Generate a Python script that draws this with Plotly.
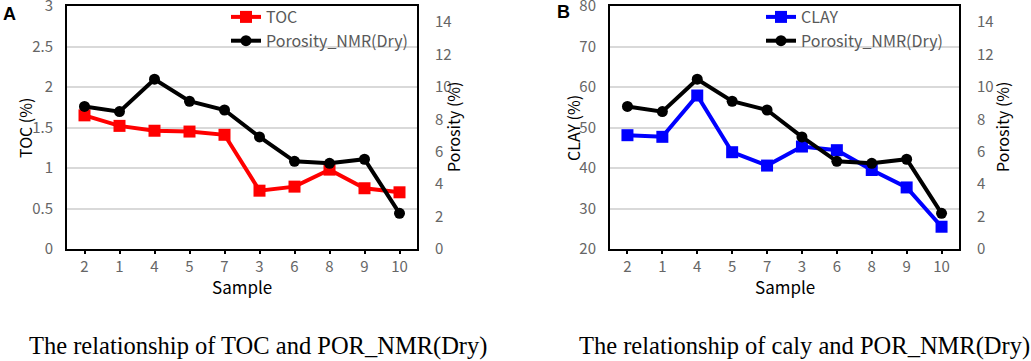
import plotly.graph_objects as go
from plotly.subplots import make_subplots

samples = ["2", "1", "4", "5", "7", "3", "6", "8", "9", "10"]
toc = [1.65, 1.52, 1.46, 1.45, 1.41, 0.72, 0.77, 0.98, 0.75, 0.70]
clay = [48.1, 47.7, 57.9, 43.9, 40.6, 45.3, 44.4, 39.5, 35.2, 25.5]
porosity = [8.8, 8.48, 10.48, 9.12, 8.58, 6.92, 5.41, 5.29, 5.54, 2.2]

W, H = 1031, 361
fig = make_subplots(rows=1, cols=2, specs=[[{"secondary_y": True}, {"secondary_y": True}]])

fig.add_trace(go.Scatter(x=samples, y=toc, name="TOC", mode="lines+markers",
                         line=dict(color="#ff0000", width=4),
                         marker=dict(symbol="square", size=12, color="#ff0000"),
                         legend="legend"), row=1, col=1, secondary_y=False)
fig.add_trace(go.Scatter(x=samples, y=porosity, name="Porosity_NMR(Dry)", mode="lines+markers",
                         line=dict(color="#000000", width=4),
                         marker=dict(symbol="circle", size=11, color="#000000"),
                         legend="legend"), row=1, col=1, secondary_y=True)
fig.add_trace(go.Scatter(x=samples, y=clay, name="CLAY", mode="lines+markers",
                         line=dict(color="#0000ff", width=4),
                         marker=dict(symbol="square", size=12, color="#0000ff"),
                         legend="legend2"), row=1, col=2, secondary_y=False)
fig.add_trace(go.Scatter(x=samples, y=porosity, name="Porosity_NMR(Dry)", mode="lines+markers",
                         line=dict(color="#000000", width=4),
                         marker=dict(symbol="circle", size=11, color="#000000"),
                         legend="legend2"), row=1, col=2, secondary_y=True)

ydom = [1 - 249 / H, 1 - 6 / H]
xa = [67 / W, 417 / W]
xb = [610 / W, 959 / W]
FONT = "Noto Sans CJK SC"
tickfont = dict(family=FONT, size=15, color="#666666")

def xax(dom):
    return dict(domain=dom, type="category", range=[-0.5, 9.5], showline=True, linecolor="#000000",
                linewidth=2, mirror=True, ticks="outside", ticklen=3, tickwidth=1.5, tickcolor="#000000",
                tickfont=tickfont, showgrid=False, zeroline=False)

def yleft(rng, dt, dom):
    return dict(domain=dom, range=rng, dtick=dt, showgrid=True, gridcolor="#d9d9d9", gridwidth=1.5,
                showline=True, linecolor="#000000", linewidth=2, mirror=True, zeroline=False,
                tickfont=tickfont, ticks="outside", ticklen=9, tickcolor="rgba(0,0,0,0)",
                ticklabeloverflow="allow")

def yright():
    return dict(range=[0, 15], dtick=2, showgrid=False, showline=False, zeroline=False,
                tickfont=tickfont, ticks="outside", ticklen=14, tickcolor="rgba(0,0,0,0)",
                ticklabeloverflow="allow")

legfont = dict(family=FONT, size=16, color="#595959")
fig.update_layout(
    width=W, height=H, margin=dict(l=0, r=0, t=0, b=0, autoexpand=False),
    paper_bgcolor="white", plot_bgcolor="white",
    xaxis=xax(xa), xaxis2=xax(xb),
    yaxis=yleft([0, 3], 0.5, ydom), yaxis3=yleft([20, 80], 10, ydom),
    yaxis2=yright(), yaxis4=yright(),
    legend=dict(x=226 / W, y=1, xanchor="left", yanchor="top", bgcolor="rgba(0,0,0,0)",
                font=legfont, tracegroupgap=0, itemwidth=30),
    legend2=dict(x=761 / W, y=1, xanchor="left", yanchor="top", bgcolor="rgba(0,0,0,0)",
                 font=legfont, tracegroupgap=0, itemwidth=30),
    showlegend=True,
)
fig.layout.xaxis2.domain = xb


def ann(text, x, y, size, family=FONT, angle=0, color="#000000"):
    fig.add_annotation(text=text, x=x / W, y=1 - y / H, xref="paper", yref="paper",
                       xanchor="center", yanchor="middle", showarrow=False, textangle=angle,
                       font=dict(family=family, size=size, color=color))

ann("Sample", 242, 286, 17)
ann("Sample", 784.5, 286, 17)
ann("TOC (%)", 25, 128, 16, angle=-90)
ann("CLAY (%)", 573, 128, 16, angle=-90)
ann("Porosity (%)", 453, 127, 16, angle=-90)
ann("Porosity (%)", 1002, 127, 16, angle=-90)
ann("<b>A</b>", 9, 14, 18, family="Liberation Sans")
ann("<b>B</b>", 563, 12, 18, family="Liberation Sans")
ann("The relationship of TOC and POR_NMR(Dry)", 257.5, 346, 24.5, family="Liberation Serif")
ann("The relationship of caly and POR_NMR(Dry)", 804, 346, 24.5, family="Liberation Serif")

fig.write_html("out.html", config={"displayModeBar": False},
               post_script="document.body.style.margin='0px';")
